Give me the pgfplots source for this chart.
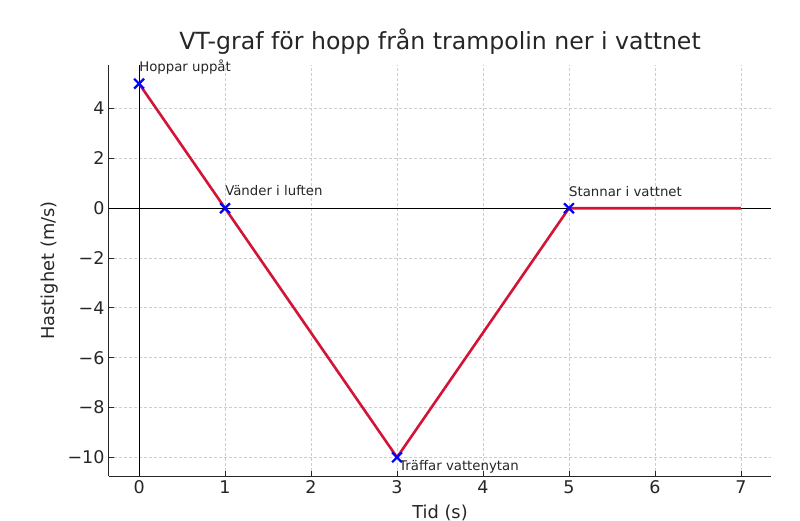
\documentclass[border=0pt]{standalone}
\usepackage{fontspec}
\setmainfont{DejaVu Sans}
\usepackage{pgfplots}
\pgfplotsset{compat=1.18}
\definecolor{linecol}{RGB}{210,20,55}
\definecolor{txt}{RGB}{38,38,38}
\definecolor{gridc}{RGB}{205,205,205}
\begin{document}
\begin{tikzpicture}
\path[use as bounding box] (-109pt,-44pt) rectangle (691pt,476pt);
\begin{axis}[
  at={(0pt,0pt)}, anchor=south west,
  scale only axis, width=662pt, height=411pt,
  xmin=-0.35, xmax=7.35, ymin=-10.75, ymax=5.75,
  axis x line*=bottom, axis y line*=left,
  axis line style={-, line width=1pt, color=txt},
  xtick={0,1,...,7},
  ytick={-10,-8,-6,-4,-2,0,2,4},
  yticklabels={−10,−8,−6,−4,−2,0,2,4},
  /pgf/number format/assume math mode=true,
  tick align=inside, major tick length=5pt,
  tick style={line width=0.8pt, color=txt},
  ticklabel style={font=\fontsize{17.5}{20}\selectfont, text=txt},
  xticklabel style={yshift=-1pt},
  yticklabel style={xshift=-1pt},
  grid=major,
  major grid style={dash pattern=on 3pt off 2pt, line width=0.8pt, color=gridc},
  title={VT-graf för hopp från trampolin ner i vattnet},
  title style={font=\fontsize{23.6}{28}\selectfont, text=txt, at={(axis description cs:0.5,1.0243)}, anchor=base},
  xlabel={Tid (s)},
  xlabel style={font=\fontsize{17.8}{20}\selectfont, text=txt, at={(axis description cs:0.5,-0.1022)}, anchor=base},
  ylabel={Hastighet (m/s)},
  ylabel style={font=\fontsize{17.8}{20}\selectfont, text=txt, at={(axis description cs:-0.0891,0.5)}, anchor=center, rotate=0},
  clip=false,
]
\addplot[black, line width=1pt, forget plot] coordinates {(-0.35,0) (7.35,0)};
\addplot[black, line width=1pt, forget plot] coordinates {(0,-10.75) (0,5.75)};
\addplot[linecol, line width=2.6pt, line join=round] coordinates {(0,5) (1,0) (3,-10) (5,0) (7,0)};
\addplot[only marks, mark=x, mark size=7pt, mark options={line width=2.2pt, color=blue}] coordinates {(0,5) (1,0) (3,-10) (5,0)};
\node[anchor=base west, inner sep=0pt, text=txt, font=\fontsize{13.3}{16}\selectfont] at ([yshift=12pt]axis cs:0,5) {Hoppar uppåt};
\node[anchor=base west, inner sep=0pt, text=txt, font=\fontsize{13.3}{16}\selectfont] at ([yshift=12.5pt]axis cs:1,0) {Vänder i luften};
\node[anchor=base west, inner sep=0pt, text=txt, font=\fontsize{13.3}{16}\selectfont] at ([xshift=2pt,yshift=-13pt]axis cs:3,-10) {Träffar vattenytan};
\node[anchor=base west, inner sep=0pt, text=txt, font=\fontsize{13.3}{16}\selectfont] at ([yshift=12pt]axis cs:5,0) {Stannar i vattnet};
\end{axis}
\end{tikzpicture}
\end{document}
